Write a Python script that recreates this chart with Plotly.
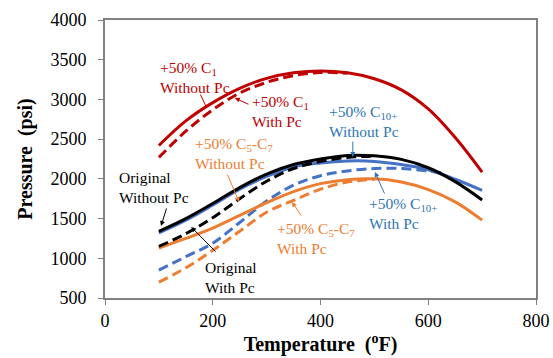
import plotly.graph_objects as go

# Temperature (°F)
temp = [100, 150, 200, 250, 300, 350, 400, 450, 500, 550, 600, 650, 700]

# Pressure (psi)
c1_without = [2420, 2730, 2960, 3140, 3265, 3335, 3358, 3335, 3260, 3120, 2880, 2520, 2085]
c1_with_t = [100, 150, 200, 250, 300, 350, 400, 450]
c1_with = [2270, 2600, 2870, 3080, 3215, 3300, 3340, 3330]

orig_without = [1340, 1500, 1690, 1890, 2060, 2180, 2250, 2295, 2290, 2245, 2140, 1965, 1735]
orig_with_t = [100, 150, 200, 250, 300, 350, 400, 450, 500]
orig_with = [1150, 1310, 1510, 1750, 1970, 2130, 2220, 2270, 2285]

c10_without = [1320, 1480, 1670, 1870, 2030, 2150, 2200, 2225, 2220, 2180, 2115, 1995, 1855]
c10_with_t = [100, 150, 200, 250, 300, 350, 400, 450, 500, 550, 600, 630]
c10_with = [850, 1020, 1190, 1450, 1720, 1920, 2040, 2100, 2130, 2130, 2100, 2070]

c57_without = [1130, 1250, 1380, 1540, 1700, 1840, 1940, 1990, 2000, 1960, 1865, 1710, 1480]
c57_with_t = [100, 150, 200, 250, 300, 350, 400, 450, 500]
c57_with = [700, 880, 1100, 1340, 1580, 1730, 1870, 1960, 1995]

RED = "#C00000"
BLACK = "#000000"
BLUE = "#4472C4"
ORANGE = "#ED7D31"
BLUE_TXT = "#2E75B6"
ORANGE_TXT = "#ED7D31"

fig = go.Figure()

def add(x, y, color, dash):
    fig.add_trace(go.Scatter(x=x, y=y, mode="lines",
                             line=dict(color=color, width=3, dash=dash, shape="spline", smoothing=1.0),
                             showlegend=False, hoverinfo="skip"))

DASH = "10px,5px"
add(temp, c10_without, BLUE, "solid")
add(c10_with_t, c10_with, BLUE, DASH)
add(temp, c57_without, ORANGE, "solid")
add(c57_with_t, c57_with, ORANGE, DASH)
add(temp, orig_without, BLACK, "solid")
add(orig_with_t, orig_with, BLACK, DASH)
add(temp, c1_without, RED, "solid")
add(c1_with_t, c1_with, RED, DASH)

FONT = "Liberation Serif, Times New Roman, serif"

labels = [
    ("+50% C<sub>1</sub><br>Without Pc", 98, 3282, RED, (176, 3081, 187, 2917, 0)),
    ("+50% C<sub>1</sub><br>With Pc", 269, 2842, RED, (269, 2930, 241, 3018, 2)),
    ("+50% C<sub>5</sub>-C<sub>7</sub><br>Without Pc", 163, 2325, ORANGE_TXT, (226, 2074, 249, 1709, 2)),
    ("Original<br>Without Pc", 22, 1897, BLACK, (115, 1646, 104, 1406, 2)),
    ("Original<br>With Pc", 182, 764, BLACK, (208, 1066, 160, 1394, 2)),
    ("+50% C<sub>10+</sub><br>Without Pc", 412, 2728, BLUE_TXT, (460, 2489, 460, 2275, 2)),
    ("+50% C<sub>10+</sub><br>With Pc", 486, 1570, BLUE_TXT, (520, 1797, 501, 2086, 2)),
    ("+50% C<sub>5</sub>-C<sub>7</sub><br>With Pc", 316, 1255, ORANGE_TXT, (366, 1520, 347, 1709, 2)),
]

for text, tx, ty, col, (ax, ay, hx, hy, head) in labels:
    fig.add_annotation(x=tx, y=ty, text=text, showarrow=False, xanchor="left", yanchor="middle",
                       align="left", font=dict(family=FONT, size=15.5, color=col))
    fig.add_annotation(x=hx, y=hy, ax=ax, ay=ay, axref="x", ayref="y", text="",
                       showarrow=True, arrowhead=head, arrowsize=1, arrowwidth=1, arrowcolor=col)

fig.update_layout(
    width=553, height=358,
    margin=dict(l=105, r=17, t=20, b=60, autoexpand=False),
    paper_bgcolor="white", plot_bgcolor="white",
    font=dict(family=FONT, size=18, color="black"),
)
fig.update_xaxes(range=[0, 800], dtick=200, tick0=0, showgrid=False, zeroline=False,
                 showline=True, linecolor="#808080", linewidth=2, mirror=True,
                 ticks="outside", ticklen=5, tickcolor="#808080", tickwidth=1,
                 tickfont=dict(family=FONT, size=18), automargin=False,
                 title=dict(text="<b>Temperature  (<sup>o</sup>F)</b>", font=dict(family=FONT, size=20), standoff=6))
fig.update_yaxes(range=[500, 4000], dtick=500, tick0=500, showgrid=False, zeroline=False,
                 showline=True, linecolor="#808080", linewidth=2, mirror=True,
                 ticks="outside", ticklen=5, tickcolor="#808080", tickwidth=1,
                 ticklabelstandoff=8,
                 tickfont=dict(family=FONT, size=18), automargin=False,
                 title=dict(text="<b>Pressure  (psi)</b>", font=dict(family=FONT, size=20), standoff=12))

fig.write_html("out.html")
